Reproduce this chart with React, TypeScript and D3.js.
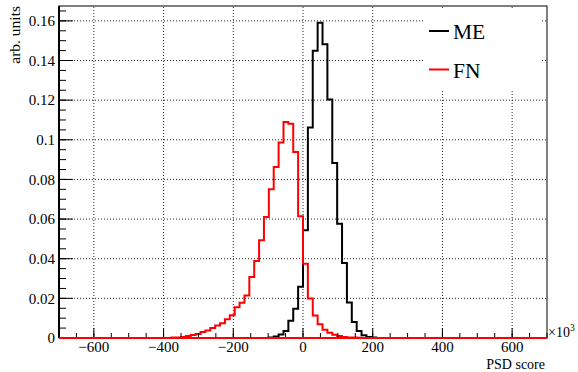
import * as d3 from "d3";

// histogram binning: 100 bins of 14 units over [-700, 700]
const xDomain: [number, number] = [-700, 700];
const binWidth = 14;

// ME (black) starts at bin edge -98
const meFirstEdge = -98;
const meValues = [
    0.0003, 0.0008, 0.0018, 0.0035, 0.0087, 0.0148, 0.0258, 0.0544, 0.1062,
    0.1449, 0.159, 0.1482, 0.1203, 0.0883, 0.0577, 0.0379, 0.0179, 0.0081,
    0.0035, 0.0014, 0.0005, 0.0002,
];

// FN (red) starts at bin edge -378
const fnFirstEdge = -378;
const fnValues = [
    0.0002, 0.0003, 0.0005, 0.001, 0.0015, 0.002, 0.003, 0.0038, 0.005, 0.0063,
    0.0075, 0.0095, 0.0115, 0.0155, 0.0178, 0.0215, 0.0308, 0.0389, 0.0493,
    0.061, 0.075, 0.0863, 0.0986, 0.109, 0.1081, 0.0939, 0.0614, 0.0374,
    0.0199, 0.0114, 0.0069, 0.0042, 0.0027, 0.0017, 0.001, 0.0005, 0.0003,
    0.0002, 0.0001,
];

const xTicks = [-600, -400, -200, 0, 200, 400, 600];
const xTickLabels = ["\u2212600", "\u2212400", "\u2212200", "0", "200", "400", "600"];
const yTicks = [0, 0.02, 0.04, 0.06, 0.08, 0.1, 0.12, 0.14, 0.16];
const yTickLabels = ["0", "0.02", "0.04", "0.06", "0.08", "0.1", "0.12", "0.14", "0.16"];
const yMax = 0.1675;

const legendItems = [
    { label: "ME", color: "#000000" },
    { label: "FN", color: "#ff0000" },
];

const W = 578;
const H = 372;
const margin = { top: 6, right: 31, bottom: 34, left: 59 };
const FONT = "'Liberation Serif', 'DejaVu Serif', serif";

function stepPoints(firstEdge: number, values: number[]): [number, number][] {
    const pts: [number, number][] = [[xDomain[0], 0]];
    values.forEach((v, i) => pts.push([firstEdge + i * binWidth, v]));
    pts.push([firstEdge + values.length * binWidth, 0]);
    pts.push([xDomain[1], 0]);
    return pts;
}

export default function App() {
    const x = d3.scaleLinear().domain(xDomain).range([margin.left, W - margin.right]);
    const y = d3.scaleLinear().domain([0, yMax]).range([H - margin.bottom, margin.top]);

    const line = d3
        .line<[number, number]>()
        .x((d) => x(d[0]))
        .y((d) => y(d[1]))
        .curve(d3.curveStepAfter);

    const xMinor = d3.range(-700, 701, 50);
    const yMinor = d3.range(0, yMax, 0.005);

    const x0 = x.range()[0];
    const x1 = x.range()[1];
    const y0 = y.range()[0];
    const y1 = y.range()[1];

    // legend box
    const lg = { x: 424, y: 10, w: 118, h: 80 };

    return (
        <svg
            width={W}
            height={H}
            style={{ position: "absolute", left: 0, top: 0, display: "block", background: "#fff" }}
            fontFamily={FONT}
        >
            <rect x={0} y={0} width={W} height={H} fill="#fff" />

            {/* grid */}
            <g stroke="#000" strokeWidth={1} strokeDasharray="1,2" opacity={0.85}>
                {xTicks.map((t) => (
                    <line key={"gx" + t} x1={x(t)} x2={x(t)} y1={y0} y2={y1} />
                ))}
                {yTicks.slice(1).map((t) => (
                    <line key={"gy" + t} x1={x0} x2={x1} y1={y(t)} y2={y(t)} />
                ))}
            </g>

            {/* frame */}
            <rect x={x0} y={y1} width={x1 - x0} height={y0 - y1} fill="none" stroke="#000" strokeWidth={1} />

            {/* legend background */}
            <rect x={lg.x} y={lg.y} width={lg.w} height={lg.h} fill="#fff" />

            {/* histograms */}
            <path d={line(stepPoints(meFirstEdge, meValues)) || ""} fill="none" stroke="#000" strokeWidth={2} />
            <path d={line(stepPoints(fnFirstEdge, fnValues)) || ""} fill="none" stroke="#ff0000" strokeWidth={2} />

            {/* y axis */}
            <line x1={x0} x2={x0} y1={y0} y2={y1} stroke="#000" strokeWidth={2} />
            {yMinor.map((t, i) => (
                <line key={"ym" + i} x1={x0} x2={x0 + 7} y1={y(t)} y2={y(t)} stroke="#000" strokeWidth={1} />
            ))}
            {yTicks.map((t) => (
                <line key={"yt" + t} x1={x0} x2={x0 + 14} y1={y(t)} y2={y(t)} stroke="#000" strokeWidth={1} />
            ))}
            {yTicks.map((t, i) => (
                <text key={"yl" + t} x={x0 - 4} y={y(t)} dy="0.35em" textAnchor="end" fontSize={15}>
                    {yTickLabels[i]}
                </text>
            ))}
            <text
                transform={`translate(${20}, ${y1}) rotate(-90)`}
                textAnchor="end"
                fontSize={15.5}
            >
                arb. units
            </text>

            {/* x axis */}
            {xMinor.map((t) => (
                <line key={"xm" + t} x1={x(t)} x2={x(t)} y1={y0} y2={y0 - 5} stroke="#000" strokeWidth={1} />
            ))}
            {xTicks.map((t) => (
                <line key={"xt" + t} x1={x(t)} x2={x(t)} y1={y0} y2={y0 - 10} stroke="#000" strokeWidth={1} />
            ))}
            {xTicks.map((t, i) => (
                <text key={"xl" + t} x={x(t)} y={352} textAnchor="middle" fontSize={15}>
                    {xTickLabels[i]}
                </text>
            ))}
            <text x={548} y={336.5} fontSize={14}>
                {"\u00d710"}
                <tspan fontSize={9.5} dy={-6}>3</tspan>
            </text>
            <text x={545} y={369} textAnchor="end" fontSize={14}>
                PSD score
            </text>
            {/* red baseline on top of axis, as drawn by histogram */}
            <line x1={x0} x2={x1} y1={y0} y2={y0} stroke="#ff0000" strokeWidth={2} />

            {/* legend */}
            {legendItems.map((d, i) => {
                const ly = 31 + i * 38.5;
                return (
                    <g key={d.label}>
                        <line x1={429} x2={449} y1={ly} y2={ly} stroke={d.color} strokeWidth={2} />
                        <text x={453} y={ly + 8.3} fontSize={21.5}>
                            {d.label}
                        </text>
                    </g>
                );
            })}
        </svg>
    );
}
